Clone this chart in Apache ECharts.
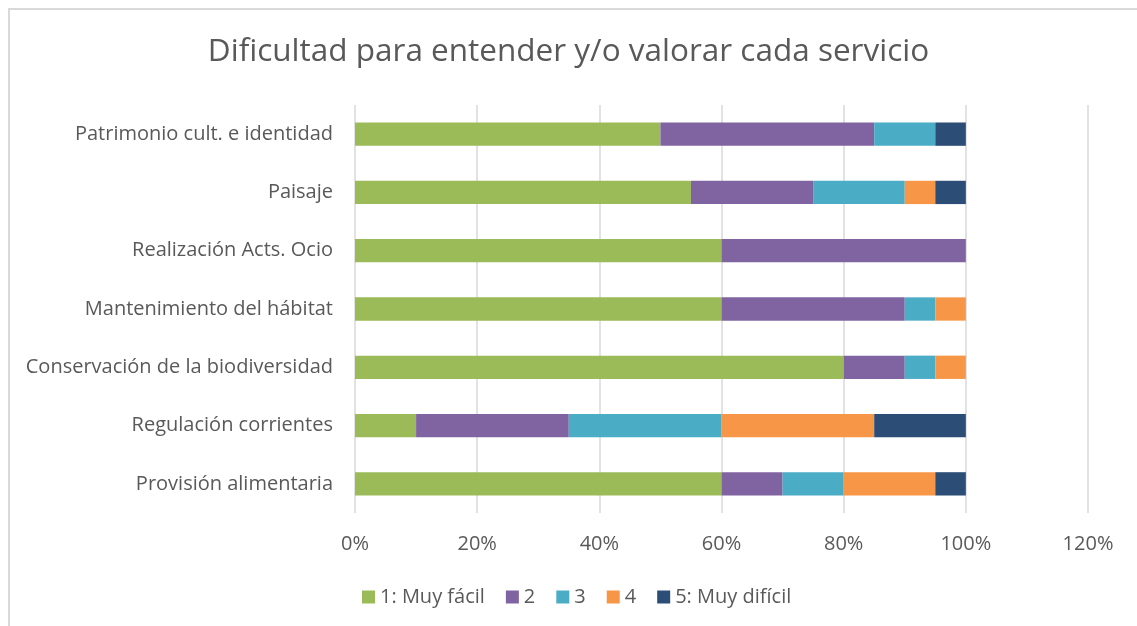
<!DOCTYPE html>
<html>
<head>
<meta charset="utf-8">
<script src="https://cdn.jsdelivr.net/npm/echarts@6/dist/echarts.min.js"></script>
<style>
    html, body { margin: 0; padding: 0; background: #fff; overflow: hidden; }
    #frame { position: absolute; left: 8px; top: 8px; width: 1140px; height: 630px; border: 2px solid #d9d9d9; box-sizing: border-box; }
    #chart { position: absolute; left: 0; top: 0; width: 1137px; height: 626px; }
</style>
</head>
<body>
<div id="frame"></div>
<div id="chart"></div>
<script>
// bottom to top, as echarts draws category axes from the origin
var categories = ['Provisión alimentaria', 'Regulación corrientes', 'Conservación de la biodiversidad',
    'Mantenimiento del hábitat', 'Realización Acts. Ocio', 'Paisaje', 'Patrimonio cult. e identidad'];
var seriesNames = ['1: Muy fácil', '2', '3', '4', '5: Muy difícil'];
var muyFacil = [60, 10, 80, 60, 60, 55, 50];
var dos = [10, 25, 10, 30, 40, 20, 35];
var tres = [10, 25, 5, 5, 0, 15, 10];
var cuatro = [15, 25, 5, 5, 0, 5, 0];
var muyDificil = [5, 15, 0, 0, 0, 5, 5];
var colors = ['#9BBB59', '#8064A2', '#4BACC6', '#F79646', '#2C4D75'];

var values = [muyFacil, dos, tres, cuatro, muyDificil];
var series = [];
for (var i = 0; i < seriesNames.length; i++) {
    series.push({
        name: seriesNames[i],
        type: 'bar',
        stack: 'total',
        barCategoryGap: '60%',
        data: values[i],
        itemStyle: { color: colors[i] }
    });
}

var chart = echarts.init(document.getElementById('chart'));
var font = "'Open Sans', 'Noto Sans', sans-serif";
var option = {
    animation: false,
    color: colors,
    textStyle: { fontFamily: font },
    title: {
        text: 'Dificultad para entender y/o valorar cada servicio',
        left: 'center',
        top: 31,
        textStyle: { fontSize: 31.5, fontWeight: 'normal', color: '#595959', fontFamily: font }
    },
    legend: {
        data: seriesNames,
        bottom: 14,
        left: 357,
        itemWidth: 13,
        itemHeight: 13,
        itemGap: 21,
        icon: 'rect',
        textStyle: { fontSize: 20, color: '#595959', fontFamily: font }
    },
    grid: { left: 355, right: 49, top: 105, bottom: 113 },
    xAxis: {
        type: 'value',
        min: 0,
        max: 120,
        interval: 20,
        axisLine: { show: false },
        axisTick: { show: false },
        axisLabel: {
            formatter: '{value}%',
            fontSize: 20,
            color: '#595959',
            margin: 21,
            fontFamily: font
        },
        splitLine: { lineStyle: { color: '#d9d9d9', width: 1.5 } }
    },
    yAxis: {
        type: 'category',
        data: categories,
        axisLine: { show: false },
        axisTick: { show: false },
        axisLabel: { fontSize: 20, color: '#595959', margin: 22, fontFamily: font }
    },
    series: series
};
chart.setOption(option);
</script>
</body>
</html>
